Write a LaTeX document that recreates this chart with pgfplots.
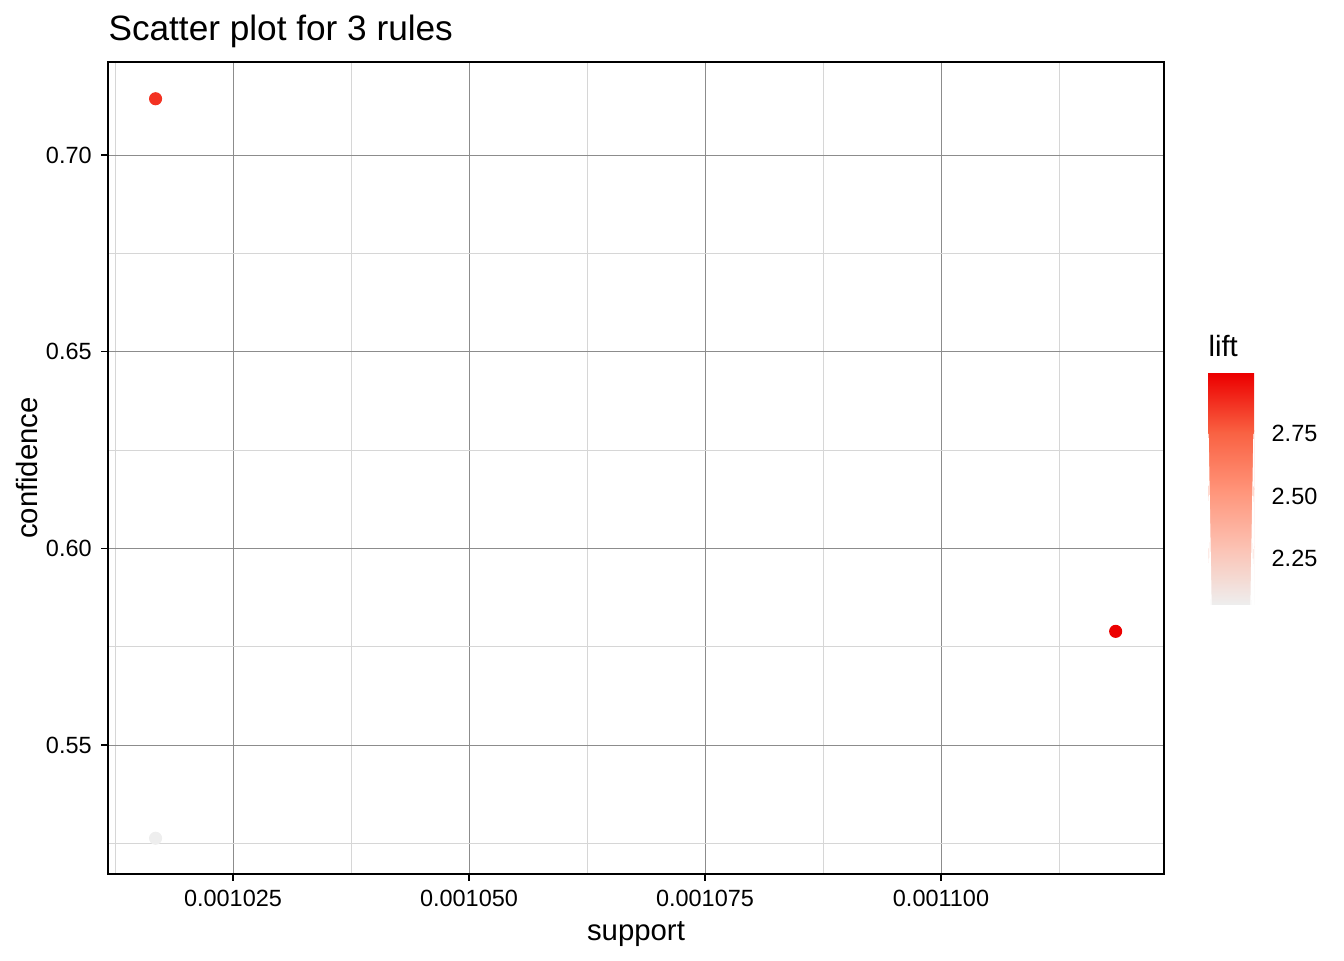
\documentclass[border=0pt]{standalone}
\usepackage{pgfplots}
\pgfplotsset{compat=1.18}
\usepackage{fontspec}
\setmainfont{Liberation Sans}
\pgfplotsset{colormap={lift}{rgb255(0cm)=(238,238,238); rgb255(1cm)=(252,193,178); rgb255(2cm)=(255,147,120); rgb255(3cm)=(249,96,65); rgb255(4cm)=(236,0,0)}}
\definecolor{cA}{RGB}{238,238,238}
\definecolor{cB}{RGB}{252,193,178}
\definecolor{cC}{RGB}{255,147,120}
\definecolor{cD}{RGB}{249,96,65}
\definecolor{cE}{RGB}{236,0,0}
\begin{document}
\begin{tikzpicture}
\path[use as bounding box] (-40.5pt,-32.25pt) rectangle (463.5pt,327.75pt);
\begin{axis}[
  name=main,
  at={(0,0)}, anchor=south west,
  scale only axis, width=396pt, height=304.5pt,
  xmin=0.00101176, xmax=0.00112362, ymin=0.51721, ymax=0.72364,
  scaled ticks=false,
  xtick={0.001025,0.00105,0.001075,0.0011},
  xticklabels={0.001025,0.001050,0.001075,0.001100},
  minor xtick={0.0010125,0.0010375,0.0010625,0.0010875,0.0011125},
  ytick={0.55,0.6,0.65,0.7}, yticklabels={0.55,0.60,0.65,0.70},
  minor ytick={0.525,0.575,0.625,0.675},
  grid=both,
  major grid style={black!45, line width=0.3pt},
  minor grid style={black!16, line width=0.25pt},
  axis line style={black, line width=0.6pt},
  tick align=outside, tick pos=left,
  major tick length=2.6pt, minor tick length=0pt,
  tick style={black, line width=0.5pt},
  ticklabel style={font=\fontsize{8.8}{10}\selectfont, black},
  xlabel={support}, ylabel={confidence},
  label style={font=\fontsize{11}{13}\selectfont},
  xlabel style={at={(0.5,0)}, anchor=base, yshift=-24.75pt},
  ylabel style={at={(0,0.5)}, anchor=base, yshift=26.25pt},
  colormap name=lift,
  point meta min=2.065, point meta max=2.99,
]
\addplot[scatter, only marks, mark=*, mark size=2.25pt,
  scatter/use mapped color={draw=mapped color, fill=mapped color},
  point meta=explicit]
  table[x=support, y=confidence, meta=lift] {
support confidence lift
0.0010168 0.7143 2.87
0.0011185 0.5789 2.99
0.0010168 0.5263 2.065
};
\end{axis}
\node[anchor=base west, inner sep=0pt, yshift=7.9pt, font=\fontsize{13.2}{15}\selectfont] at (main.north west) {Scatter plot for 3 rules};
\begin{axis}[
  name=cb,
  at={(412.5pt,100.9pt)}, anchor=south west,
  scale only axis, width=17.25pt, height=86.6pt,
  xmin=0, xmax=1, ymin=2.065, ymax=2.99,
  xtick=\empty,
  ytick={2.25,2.5,2.75}, yticklabels={2.25,2.50,2.75},
  yticklabel pos=right,
  major tick length=0pt,
  ticklabel style={font=\fontsize{8.8}{10}\selectfont, black},
  yticklabel style={xshift=3.1pt},
  axis line style={draw=none},
]
\shade[bottom color=cA, top color=cB] (axis cs:0,2.065) rectangle (axis cs:1,2.2993);
\shade[bottom color=cB, top color=cC] (axis cs:0,2.2963) rectangle (axis cs:1,2.5305);
\shade[bottom color=cC, top color=cD] (axis cs:0,2.5275) rectangle (axis cs:1,2.7618);
\shade[bottom color=cD, top color=cE] (axis cs:0,2.7588) rectangle (axis cs:1,2.99);
\draw[white, line width=0.5pt] (axis cs:0,2.25) -- ++(3.4pt,0);
\draw[white, line width=0.5pt] (axis cs:1,2.25) -- ++(-3.4pt,0);
\draw[white, line width=0.5pt] (axis cs:0,2.5) -- ++(3.4pt,0);
\draw[white, line width=0.5pt] (axis cs:1,2.5) -- ++(-3.4pt,0);
\draw[white, line width=0.5pt] (axis cs:0,2.75) -- ++(3.4pt,0);
\draw[white, line width=0.5pt] (axis cs:1,2.75) -- ++(-3.4pt,0);
\end{axis}
\node[anchor=base west, inner sep=0pt, yshift=6.4pt, font=\fontsize{11}{13}\selectfont] at (cb.north west) {lift};
\end{tikzpicture}
\end{document}
